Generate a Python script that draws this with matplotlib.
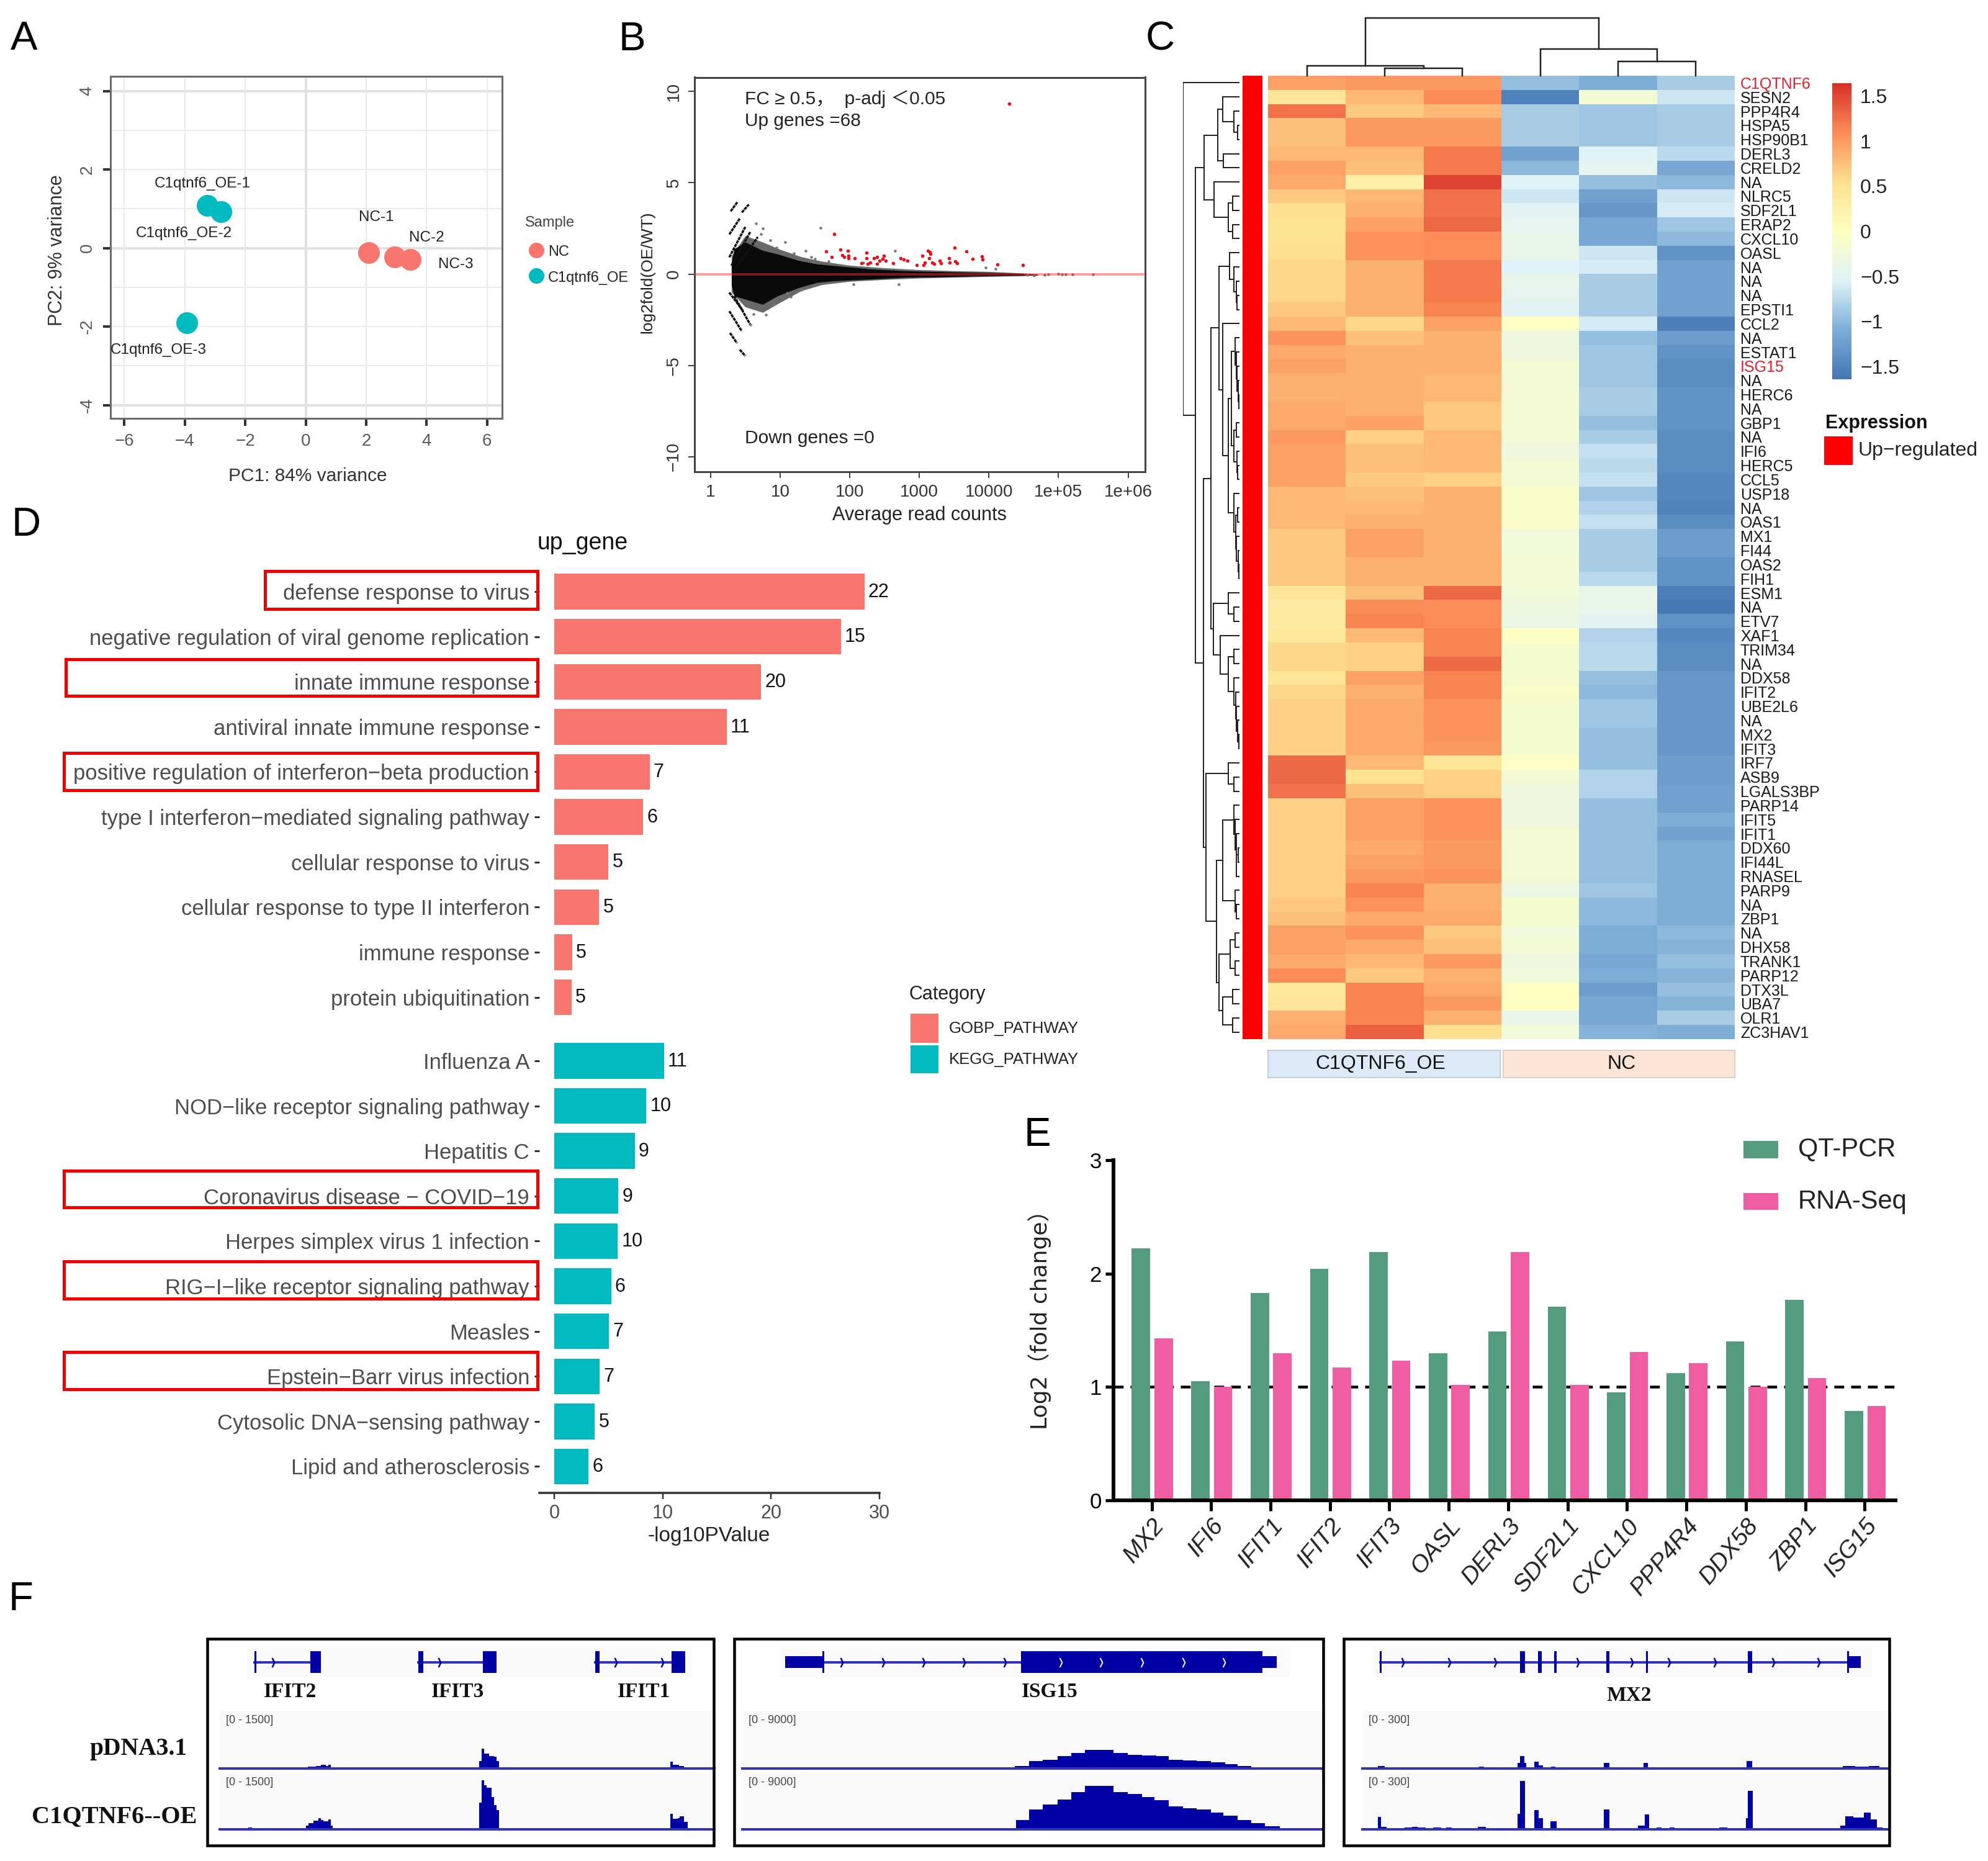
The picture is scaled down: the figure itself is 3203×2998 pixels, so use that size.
import numpy as np
import matplotlib
matplotlib.use('Agg')
import matplotlib.pyplot as plt
from matplotlib.colors import LinearSegmentedColormap, ListedColormap
from matplotlib.path import Path
from matplotlib.patches import Rectangle

plt.rcParams['font.family'] = ['Liberation Sans', 'Noto Sans CJK SC', 'DejaVu Sans']

W, H = 3203, 2998

# ---------- A: PCA ----------
pca_names = ['C1qtnf6_OE-1', 'C1qtnf6_OE-2', 'C1qtnf6_OE-3', 'NC-1', 'NC-2', 'NC-3']
pca_x = [-3.26, -2.81, -3.93, 2.09, 2.95, 3.47]
pca_y = [1.08, 0.92, -1.91, -0.12, -0.23, -0.29]
pca_group = ['OE', 'OE', 'OE', 'NC', 'NC', 'NC']

# ---------- B: MA plot ----------
red_logmean = [4.29, 1.78, 1.66, 1.74, 1.87, 1.89, 1.92, 1.97, 1.98, 1.98, 2.07, 2.17, 2.24, 2.24, 2.26, 2.35, 2.39,
               2.29, 2.43, 2.47, 2.49, 2.52, 2.39, 2.62, 2.73, 2.78, 2.83, 2.96, 3.04, 3.12, 3.15, 3.08, 3.06, 3.16,
               3.14, 3.19, 3.21, 3.29, 3.31, 3.43, 3.44, 3.52, 3.54, 3.51, 3.68, 3.77, 3.90, 3.91, 4.12, 4.49]
red_lfc = [9.32, 2.19, 1.23, 0.94, 1.34, 1.05, 0.92, 1.29, 1.01, 0.87, 0.87, 0.59, 1.16, 0.87, 0.55, 0.87, 0.55,
           0.64, 0.72, 0.83, 1.01, 0.74, 0.92, 0.61, 0.87, 0.79, 0.74, 0.50, 1.01, 1.29, 1.20, 0.64, 0.50, 1.10,
           0.87, 0.64, 0.55, 0.72, 0.61, 0.87, 0.64, 0.68, 0.59, 1.44, 1.23, 0.83, 0.98, 0.79, 0.53, 0.50]
cloud_logmean = [0.30, 0.34, 0.50, 0.75, 0.96, 1.27, 1.53, 1.78, 2.29, 2.80, 3.31, 3.82, 4.34, 4.70]
cloud_up = [0.60, 1.38, 1.75, 1.29, 1.10, 0.74, 0.55, 0.46, 0.28, 0.18, 0.13, 0.09, 0.05, 0.0]
cloud_low = [-0.60, -1.20, -1.38, -1.66, -1.20, -0.74, -0.46, -0.37, -0.28, -0.18, -0.15, -0.11, -0.09, -0.07]
# sparser edge of the cloud
fringe_logmean = [0.30, 0.50, 0.75, 1.00, 1.30, 1.60, 2.00, 2.50, 3.00, 3.50, 4.00, 4.50]
fringe_up = [1.00, 2.10, 1.75, 1.35, 0.95, 0.70, 0.48, 0.34, 0.24, 0.18, 0.14, 0.05]
fringe_low = [-1.00, -1.80, -2.10, -1.55, -0.92, -0.58, -0.40, -0.30, -0.22, -0.18, -0.13, -0.09]
# (log mean start, lfc start, log mean end, lfc end)
streaks = [(.29, 3.44, .39, 3.96), (.45, 3.37, .55, 3.81), (.27, 2.17, .42, 3.04), (.27, .92, .50, 2.58),
           (.30, .46, .57, 2.30), (.37, .37, .68, 2.03), (.27, -1.01, .47, -2.03), (.27, -2.03, .45, -3.13),
           (.28, -3.22, .38, -3.78), (.42, -4.14, .50, -4.48), (.34, -1.2, .57, -2.76)]
grey_logmean = [1.58, 2.65, 2.70, 0.86, 0.75, 0.65, 1.07, 1.37, 1.50, 0.91, 0.80, 0.57, 1.20, 1.45, 1.70, 0.95, 1.15,
                4.80, 4.85, 5.00, 5.05, 5.10, 5.20, 5.50, 4.55, 4.65, 3.95, 4.10, 2.20, 2.05, 1.10, 1.30, 0.62, 0.72]
grey_lfc = [2.52, 1.29, -0.55, 1.84, 2.49, 2.76, 1.75, 1.29, 0.83, -1.66, -2.21, -2.76, 1.15, 0.95, 0.70, 1.45, -1.25,
            -0.04, 0.0, 0.02, 0.0, -0.02, -0.02, 0.0, -0.05, -0.08, 0.35, 0.30, 0.62, -0.55, -1.05, -0.85, -2.2, 2.2]

# ---------- C: heatmap ----------
gene_names = ['C1QTNF6', 'SESN2', 'PPP4R4', 'HSPA5', 'HSP90B1', 'DERL3', 'CRELD2', 'NA', 'NLRC5', 'SDF2L1', 'ERAP2',
              'CXCL10', 'OASL', 'NA', 'NA', 'NA', 'EPSTI1', 'CCL2', 'NA', 'ESTAT1', 'ISG15', 'NA', 'HERC6', 'NA',
              'GBP1', 'NA', 'IFI6', 'HERC5', 'CCL5', 'USP18', 'NA', 'OAS1', 'MX1', 'FI44', 'OAS2', 'FIH1', 'ESM1',
              'NA', 'ETV7', 'XAF1', 'TRIM34', 'NA', 'DDX58', 'IFIT2', 'UBE2L6', 'NA', 'MX2', 'IFIT3', 'IRF7', 'ASB9',
              'LGALS3BP', 'PARP14', 'IFIT5', 'IFIT1', 'DDX60', 'IFI44L', 'RNASEL', 'PARP9', 'NA', 'ZBP1', 'NA',
              'DHX58', 'TRANK1', 'PARP12', 'DTX3L', 'UBA7', 'OLR1', 'ZC3HAV1']
heat_values = [
    [.95, 1.0, 1.0, -.95, -1.1, -.85], [.45, .8, 1.1, -1.5, -.2, -.65], [1.25, .7, .8, -.85, -.9, -.85],
    [.75, 1.0, 1.0, -.85, -.9, -.85], [.75, 1.0, 1.0, -.85, -.9, -.85], [.8, .8, 1.2, -1.2, -.55, -.75],
    [.95, .75, 1.2, -1.0, -.45, -1.15], [.9, .25, 1.5, -.55, -.95, -1.0], [.7, .8, 1.25, -.65, -1.2, -.65],
    [.55, .85, 1.25, -.5, -1.3, -.6], [.5, .95, 1.3, -.45, -1.15, -.9], [.5, 1.05, 1.1, -.4, -1.15, -1.0],
    [.55, 1.05, 1.1, -.4, -.65, -1.35], [.6, .85, 1.2, -.55, -.6, -1.2], [.6, .85, 1.2, -.4, -.85, -1.2],
    [.6, .85, 1.2, -.45, -.85, -1.2], [.7, .85, 1.15, -.5, -.85, -1.2], [.8, .6, .95, -.05, -.6, -1.55],
    [1.05, .75, .85, -.3, -.95, -1.25], [.9, .85, .85, -.3, -.9, -1.35], [.95, .85, .85, -.2, -.9, -1.4],
    [.85, .85, .8, -.2, -.9, -1.4], [.85, .85, .8, -.2, -.85, -1.35], [.9, .85, .7, -.2, -.85, -1.35],
    [.9, .95, .7, -.2, -.95, -1.35], [1.0, .65, .8, -.2, -.85, -1.4], [.95, .75, .8, -.3, -.7, -1.4],
    [.95, .75, .8, -.2, -.75, -1.4], [.95, .7, .65, -.2, -.7, -1.45], [.8, .75, .85, -.1, -.9, -1.45],
    [.8, .8, .85, -.1, -.8, -1.5], [.8, .85, .85, -.1, -.7, -1.4], [.7, .95, .85, -.25, -.85, -1.25],
    [.7, .95, .85, -.25, -.85, -1.25], [.7, .85, .85, -.2, -.85, -1.35], [.7, .85, .85, -.2, -.75, -1.35],
    [.45, .75, 1.3, -.25, -.4, -1.55], [.35, 1.1, 1.1, -.3, -.4, -1.6], [.35, 1.15, 1.1, -.35, -.5, -1.35],
    [.4, .8, 1.15, -.05, -.8, -1.45], [.6, .65, 1.15, -.15, -.75, -1.4], [.6, .65, 1.3, -.15, -.75, -1.4],
    [.45, .95, 1.15, -.15, -.95, -1.3], [.6, .85, 1.15, -.1, -1.0, -1.3], [.65, .9, 1.05, -.15, -.9, -1.3],
    [.65, .9, 1.05, -.15, -.9, -1.3], [.65, .9, 1.05, -.15, -.95, -1.3], [.65, .9, 1.0, -.15, -.95, -1.3],
    [1.3, .8, .45, -.05, -.95, -1.25], [1.3, .5, .65, -.2, -.8, -1.25], [1.25, .75, .65, -.3, -.8, -1.2],
    [.65, .95, 1.05, -.3, -.95, -1.2], [.65, .95, 1.05, -.3, -.95, -1.1], [.65, .95, 1.05, -.2, -.95, -1.2],
    [.65, .9, 1.0, -.2, -.95, -1.1], [.65, .95, 1.0, -.2, -.95, -1.1], [.65, 1.0, 1.05, -.2, -.95, -1.1],
    [.65, 1.15, .85, -.35, -.9, -1.1], [.7, 1.05, .85, -.15, -1.0, -1.1], [.75, .9, .9, -.15, -1.0, -1.1],
    [.95, 1.05, .7, -.25, -1.1, -1.0], [.95, .9, .75, -.2, -1.1, -1.05], [.9, .8, 1.0, -.3, -1.15, -.95],
    [1.1, .7, .85, -.25, -1.1, -1.05], [.4, 1.15, .9, -.05, -1.25, -.95], [.45, 1.15, 1.0, -.05, -1.15, -1.05],
    [.85, 1.15, .85, -.4, -1.15, -.85], [.9, 1.35, .55, -.25, -1.05, -1.1]]
heat_colors = ['#4575B4', '#7DAED6', '#E0F3F8', '#FFFFBF', '#FEE090', '#FC8D59', '#D73027']

# dendrograms as nested (height, left, right), leaves are row or column numbers
col_tree = (1.0, (.172, 0, (.129, 1, 2)), (.46, 3, (.25, 4, 5)))
e1 = (.08, 18, (.06, 19, (.04, 20, (.02, 21, (.015, 22, 23)))))
e2 = (.10, (.05, 24, 25), (.04, 26, (.03, 27, 28)))
e3 = (.10, 29, (.07, (.03, 30, 31), (.05, 32, (.02, 33, (.01, 34, 35)))))
c12 = (.29, 17, (.2, (.14, e1, e2), e3))
c11 = (.18, 12, (.1, 13, (.06, 14, (.04, 15, 16))))
c13 = (.46, (.2, 36, (.1, 37, 38)),
       (.34, 39, (.2, (.1, 40, 41), (.1, 42, (.07, 43, (.05, 44, (.03, 45, (.015, 46, 47))))))))
c1 = (.50, (.36, c11, c12), c13)
d1 = (.3, (.1, 51, (.08, 52, (.06, 53, (.05, (.02, 54, 55), 56)))), (.08, 57, (.06, 58, 59)))
d2 = (.36, (.16, (.08, 60, 61), (.08, 62, 63)), (.3, (.12, 64, 65), (.12, 66, 67)))
c2 = (.59, (.2, 48, (.1, 49, 50)), (.40, d1, d2))
b1 = (.38, (.30, 1, (.1, 2, (.03, 3, 4))), (.28, 5, 6))
b2 = (.45, 7, (.2, (.12, 8, 9), (.12, 10, 11)))
row_tree = (1.0, 0, (.78, (.62, b1, b2), (.64, c1, c2)))

# ---------- D: enrichment ----------
terms = ['defense response to virus', 'negative regulation of viral genome replication', 'innate immune response',
         'antiviral innate immune response', 'positive regulation of interferon−beta production',
         'type I interferon−mediated signaling pathway', 'cellular response to virus',
         'cellular response to type II interferon', 'immune response', 'protein ubiquitination',
         'Influenza A', 'NOD−like receptor signaling pathway', 'Hepatitis C', 'Coronavirus disease − COVID−19',
         'Herpes simplex virus 1 infection', 'RIG−I−like receptor signaling pathway', 'Measles',
         'Epstein−Barr virus infection', 'Cytosolic DNA−sensing pathway', 'Lipid and atherosclerosis']
term_pvalue = [28.6, 26.45, 19.08, 15.9, 8.8, 8.2, 5.0, 4.14, 1.64, 1.58,
               10.13, 8.49, 7.43, 5.92, 5.86, 5.26, 5.07, 4.2, 3.75, 3.16]
term_counts = [22, 15, 20, 11, 7, 6, 5, 5, 5, 5, 11, 10, 9, 9, 10, 6, 7, 7, 5, 6]

# ---------- E: validation ----------
val_genes = ['MX2', 'IFI6', 'IFIT1', 'IFIT2', 'IFIT3', 'OASL', 'DERL3', 'SDF2L1', 'CXCL10', 'PPP4R4', 'DDX58',
             'ZBP1', 'ISG15']
qt_pcr = [2.22, 1.05, 1.83, 2.04, 2.19, 1.30, 1.49, 1.71, 0.95, 1.12, 1.40, 1.77, 0.79]
rna_seq = [1.43, 1.0, 1.30, 1.17, 1.23, 1.02, 2.19, 1.02, 1.31, 1.21, 1.0, 1.08, 0.83]

# ---------- F: tracks, positions in percent of track width ----------
ifit_t1_pos = [17.8, 19.5, 20.5, 21.5, 22, 22.5, 52.5, 53, 53.5, 54.5, 55.5, 56, 56.4, 91.1, 91.6, 92.8, 93.8, 94.7]
ifit_t1_val = [50, 70, 90, 60, 90, 0, 200, 520, 380, 330, 300, 200, 0, 170, 90, 70, 40, 0]
ifit_t2_pos = [5.8, 6.5, 17.5, 18, 19, 20, 20.5, 21, 22, 22.5, 22.8, 52.5, 53, 53.5, 54, 55, 55.5, 56, 56.4,
               91.1, 91.6, 92.6, 93, 93.8, 94.6]
ifit_t2_val = [55, 0, 100, 170, 230, 300, 250, 210, 260, 100, 0, 700, 1295, 1150, 1090, 850, 640, 500, 0,
               410, 280, 290, 340, 200, 0]
isg_t1_pos = [47.0, 49.5, 51.9, 54.4, 56.8, 59.2, 61.7, 64.1, 66.6, 69.0, 71.5, 73.6, 76.1, 78.5, 80.9, 83.4, 85.5,
              87.9, 90.5]
isg_t1_val = [410, 1130, 1350, 1980, 2390, 2860, 2860, 2450, 2140, 2080, 1980, 1350, 1290, 1130, 945, 725, 350, 190, 0]
isg_t2_pos = [44.9, 47.3, 49.5, 51.9, 54.4, 56.8, 59.2, 61.7, 64.1, 66.6, 69.0, 71.2, 73.6, 76.1, 78.5, 80.9, 83.1,
              85.5, 87.9, 90.3, 92.8]
isg_t2_val = [220, 1420, 3090, 3875, 4725, 5890, 6840, 6840, 5830, 5575, 5135, 4570, 3620, 3310, 3090, 2615, 2110,
              1420, 945, 470, 0]
mx2_t1_pos = [2.6, 3.0, 4.2, 22.2, 23.2, 29.6, 30.0, 30.8, 31.2, 32.8, 33.6, 34.4, 35.9, 36.8, 46.0, 47.0, 53.5, 54.4,
              73.2, 74.2, 91.5, 93.8, 95.5, 96.5, 98.5, 99.4]
mx2_t1_val = [6, 14, 0, 10, 0, 30, 64, 30, 0, 35, 15, 0, 10, 0, 29, 0, 28, 0, 40, 0, 14, 9, 10, 14, 6, 0]
mx2_t2_pos = [3.0, 3.6, 4.6, 6.8, 8, 9.5, 10.5, 12, 13.5, 15, 16, 17, 18.5, 20.5, 22, 23.5, 25, 27, 29.6, 30.0, 31.0,
              32.8, 33.6, 34.4, 35.8, 37.0, 46.0, 47.0, 52.5, 53.8, 54.6, 56.0, 57, 58.5, 59.5, 68, 69.5, 71.5, 73.0,
              73.4, 74.4, 91.0, 92.0, 93.5, 95.5, 96.8, 98.0, 99.0]
mx2_t2_val = [66, 12, 4, 8, 10, 12, 10, 8, 9, 7, 9, 3, 8, 5, 14, 5, 8, 5, 80, 254, 5,
              100, 60, 5, 42, 0, 105, 0, 20, 79, 0, 10, 0, 10, 0, 10, 0, 8, 60,
              203, 0, 20, 68, 63, 89, 52, 10, 0]

# gene models: (start, end, half height) of each exon, intron line, arrows, grey band
ifit_exons = [(7.0, 7.4, 1), (18.3, 20.4, 1), (40.1, 41.1, 1), (53.2, 55.9, 1), (75.9, 76.8, 1), (91.4, 94.1, 1)]
ifit_lines = [(7.0, 18.3), (40.1, 53.2), (75.9, 91.4)]
ifit_arrows = [10.8, 44.4, 80.1, 89.5]
isg_exons = [(7.4, 14.0, .55), (13.8, 14.1, 1), (48.1, 89.8, 1), (89.8, 92.3, .55)]
isg_lines = [(14.0, 48.1)]
isg_arrows = [17.1, 24.3, 31.3, 38.3, 45.3]
isg_white_arrows = [55, 62, 69, 76.2, 83.2]
mx2_exons = [(3.3, 3.7, 1), (30, 31, 1), (33.4, 34.2, 1), (36.5, 37, 1), (46.4, 47.1, 1), (54, 54.4, 1), (73.4, 74.2, 1),
             (92.3, 92.7, 1), (92.7, 94.9, .55)]
mx2_lines = [(3.4, 92.5)]
mx2_arrows = [7.7, 16.5, 25.3, 41, 51.3, 58.4, 67.1, 78.2, 86.9]

SALMON = '#F8766D'
TEAL = '#00BABF'
BLUE = '#0000A6'
LINE_BLUE = '#3434B8'
TICK_GREY = '#4D4D4D'

fig = plt.figure(figsize=(W / 100, H / 100), dpi=100, facecolor='white')


def ax_px(x0, y0, x1, y1):
    # axes from pixel box, y counted from the top
    return fig.add_axes([x0 / W, 1 - y1 / H, (x1 - x0) / W, (y1 - y0) / H])


def px(v):
    return v * 0.72


# overlay for labels and annotation boxes
ov = fig.add_axes([0, 0, 1, 1], zorder=20)
ov.set_xlim(0, W)
ov.set_ylim(H, 0)
ov.axis('off')
ov.patch.set_alpha(0)

for letter, lx, ly in [('A', 17, 80), ('B', 997, 81), ('C', 1846, 80), ('D', 19, 863), ('E', 1650, 1846), ('F', 14, 2594)]:
    ov.text(lx, ly, letter, fontsize=47, va='baseline', ha='left')

# ---------- panel A ----------
ax = ax_px(177.5, 122.5, 809, 673.5)
ax.set_xlim(-6.47, 6.5)
ax.set_ylim(-4.33, 4.38)
for v in [-3, -2, -1, 1, 2, 3]:
    ax.axhline(v, color='#EAEAEA', lw=px(2), zorder=1)
for v in [-4, 0, 4]:
    ax.axhline(v, color='#E2E2E2', lw=px(4), zorder=1)
for v in [-6, -4, -2, 2, 4, 6]:
    ax.axvline(v, color='#EAEAEA', lw=px(2), zorder=1)
ax.axvline(0, color='#E2E2E2', lw=px(4), zorder=1)
for group, col in [('NC', SALMON), ('OE', TEAL)]:
    gx = [a for a, g in zip(pca_x, pca_group) if g == group]
    gy = [a for a, g in zip(pca_y, pca_group) if g == group]
    ax.scatter(gx, gy, s=px(35) ** 2, color=col, zorder=3, linewidths=0)
ax.set_xticks([-6, -4, -2, 0, 2, 4, 6])
ax.set_yticks([-4, -2, 0, 2, 4])
ax.set_yticklabels(['-4', '-2', '0', '2', '4'], rotation=90, va='center')
ax.tick_params(axis='both', labelsize=20, labelcolor='#5A5A5A', color='#333333', length=px(12), width=px(4), pad=px(12))
for s in ax.spines.values():
    s.set_color('#6A6A6A')
    s.set_linewidth(px(3))
for name, tx, ty in zip(pca_names, [326, 296, 255, 606, 687, 734], [296, 376, 564, 350, 383, 426]):
    ov.text(tx, ty, name, fontsize=17.5, ha='center', va='center', color='#222222')
ov.text(496, 767, 'PC1: 84% variance', fontsize=21.5, ha='center', va='center', color='#333333')
ov.text(92, 403, 'PC2: 9% variance', fontsize=22, ha='center', va='center', rotation=90, color='#333333')
ov.text(886, 359, 'Sample', fontsize=17, ha='center', va='center', color='#444444')
ov.scatter([864], [403], s=px(25) ** 2, color=SALMON, linewidths=0)
ov.scatter([864], [444], s=px(25) ** 2, color=TEAL, linewidths=0)
ov.text(883, 406, 'NC', fontsize=17, va='center', color='#222222')
ov.text(883, 448, 'C1qtnf6_OE', fontsize=17, va='center', color='#222222')

# ---------- panel B ----------
ax = ax_px(1119, 124.5, 1845, 760)
ax.set_xscale('log')
ax.set_xlim(10 ** -0.23, 10 ** 6.245)
ax.set_ylim(-10.82, 10.77)
ax.fill_between(10 ** np.array(fringe_logmean), fringe_low, fringe_up, color='#2A2A2A', alpha=0.7, lw=0, zorder=2)
ax.fill_between(10 ** np.array(cloud_logmean), cloud_low, cloud_up, color='#0A0A0A', lw=0, zorder=2)
for x0, y0, x1, y1 in streaks:
    ax.plot([10 ** x0, 10 ** x1], [y0, y1], color='#111111', lw=px(3.5), linestyle=(0, (1.5, 0.3)), zorder=2)
ax.scatter(10 ** np.array(grey_logmean), grey_lfc, s=px(4.5) ** 2, color='#777777', linewidths=0, zorder=2)
ax.scatter(10 ** np.array(red_logmean), red_lfc, s=px(5.5) ** 2, color='#E8101C', linewidths=0, zorder=3)
ax.axhline(0, color='#FF3030', alpha=0.45, lw=px(4), zorder=4)
ax.set_xticks([1, 10, 100, 1000, 10000, 1e5, 1e6])
ax.set_xticklabels(['1', '10', '100', '1000', '10000', '1e+05', '1e+06'])
ax.minorticks_off()
ax.set_yticks([-10, -5, 0, 5, 10])
ax.set_yticklabels(['−10', '−5', '0', '5', '10'], rotation=90, va='center')
ax.tick_params(axis='both', labelsize=20, labelcolor='#333333', color='#444444', length=px(10), width=px(2), pad=px(10))
for s in ax.spines.values():
    s.set_color('#444444')
    s.set_linewidth(px(3))
ov.text(1200, 160, 'FC ≥ 0.5，  p-adj ＜0.05', fontsize=21.5, va='center', color='#222222')
ov.text(1200, 195, 'Up genes =68', fontsize=21.5, va='center', color='#222222')
ov.text(1200, 706, 'Down genes =0', fontsize=21.5, va='center', color='#222222')
ov.text(1481, 830, 'Average read counts', fontsize=22, ha='center', va='center', color='#222222')
ov.text(1043, 439, 'log2fold(OE/WT)', fontsize=19, ha='center', va='center', rotation=90, color='#222222')


# ---------- panel C ----------
def draw_tree(ax, node, horizontal):
    # returns position and height of a node
    if not isinstance(node, tuple):
        return node, 0
    h, a, b = node
    pa, ha = draw_tree(ax, a, horizontal)
    pb, hb = draw_tree(ax, b, horizontal)
    if horizontal:
        ax.plot([ha, h, h, hb], [pa, pa, pb, pb], color='#222222', lw=px(2), solid_joinstyle='miter')
    else:
        ax.plot([pa, pa, pb, pb], [ha, h, h, hb], color='#222222', lw=px(2.5), solid_joinstyle='miter')
    return (pa + pb) / 2, h


heat_cmap = LinearSegmentedColormap.from_list('heat', heat_colors)
ax = ax_px(2043, 122, 2795, 1674)
im = ax.imshow(heat_values, aspect='auto', cmap=heat_cmap, vmin=-1.64, vmax=1.64, interpolation='nearest')
ax.set_xticks([])
ax.yaxis.tick_right()
ax.set_yticks(range(len(gene_names)))
ax.set_yticklabels(gene_names, fontsize=18, color='#1A1A1A')
ax.tick_params(axis='y', length=0, pad=px(9))
for tick, name in zip(ax.get_yticklabels(), gene_names):
    if name in ('C1QTNF6', 'ISG15'):
        tick.set_color('#E8202E')
for s in ax.spines.values():
    s.set_visible(False)

ax = ax_px(2002, 122, 2034, 1674)
ax.imshow([[1]] * len(gene_names), aspect='auto', cmap=ListedColormap(['#FF0000']))
ax.axis('off')

ax = ax_px(1905.6, 122, 1997, 1674)
ax.set_xlim(1.0, 0)
ax.set_ylim(len(gene_names) - 0.5, -0.5)
draw_tree(ax, row_tree, True)
ax.axis('off')

ax = ax_px(2043, 29, 2795, 122)
ax.set_xlim(-0.5, 5.5)
ax.set_ylim(0, 1.0)
draw_tree(ax, col_tree, False)
ax.axis('off')
for l in ax.lines:
    l.set_clip_on(False)

cax = ax_px(2952, 134, 2983, 611)
cb = fig.colorbar(im, cax=cax)
cb.set_ticks([-1.5, -1, -0.5, 0, 0.5, 1, 1.5])
cb.set_ticklabels(['−1.5', '−1', '−0.5', '0', '0.5', '1', '1.5'])
cb.ax.tick_params(length=0, labelsize=23, pad=px(14), labelcolor='#222222')
cb.outline.set_visible(False)

ov.text(2941, 682, 'Expression', fontsize=22, fontweight='bold', va='center', color='#111111')
ov.add_patch(Rectangle((2939, 703), 46, 46, color='#FF0000', lw=0))
ov.text(2994, 726, 'Up−regulated', fontsize=23, va='center', color='#222222')
ov.add_patch(Rectangle((2043, 1692), 374, 44, fc='#DCE9F7', ec='#C4CFDB', lw=px(2)))
ov.add_patch(Rectangle((2422, 1692), 373, 44, fc='#FCE4D6', ec='#DDCFC6', lw=px(2)))
ov.text(2224, 1714, 'C1QTNF6_OE', fontsize=23, ha='center', va='center', color='#111111')
ov.text(2612, 1714, 'NC', fontsize=23, ha='center', va='center', color='#111111')

# ---------- panel D ----------
ax = ax_px(869, 900, 1417, 2404.6)
ypos = list(range(10)) + [10.41 + i for i in range(10)]
colors = [SALMON] * 10 + [TEAL] * 10
ax.barh(ypos, term_pvalue, height=0.79, color=colors, lw=0)
for y, v, c in zip(ypos, term_pvalue, term_counts):
    ax.text(v + 0.35, y + 0.01, str(c), fontsize=22, va='center', color='#111111')
ax.set_xlim(-1.37, 30)
ax.set_ylim(19.99, -0.73)
ax.set_yticks(ypos)
ax.set_yticklabels(terms, fontsize=24.9, color=TICK_GREY)
ax.set_xticks([0, 10, 20, 30])
ax.tick_params(axis='y', length=px(8), width=px(3), color='#333333', pad=px(8))
ax.tick_params(axis='x', length=px(10), width=px(2.5), color='#333333', labelsize=22, labelcolor=TICK_GREY, pad=px(8))
for side in ['top', 'right', 'left']:
    ax.spines[side].set_visible(False)
ax.spines['bottom'].set_color('#333333')
ax.spines['bottom'].set_linewidth(px(3.5))
ov.text(939, 875, 'up_gene', fontsize=27, ha='center', va='center', color='#111111')
ov.text(1142, 2475, '-log10PValue', fontsize=24, ha='center', va='center', color='#222222')
for y0, y1, x0 in [(920, 981, 427), (1062, 1121, 106), (1213, 1273, 103), (1886, 1945, 103), (2032, 2092, 103), (2178, 2238, 103)]:
    ov.add_patch(Rectangle((x0, y0), 866 - x0, y1 - y0, fc='none', ec='#F00000', lw=px(5)))
ov.text(1465, 1602, 'Category', fontsize=22, va='center', color='#222222')
ov.add_patch(Rectangle((1467, 1633), 45, 47, color=SALMON, lw=0))
ov.add_patch(Rectangle((1467, 1684), 45, 45, color=TEAL, lw=0))
ov.text(1529, 1657, 'GOBP_PATHWAY', fontsize=18.5, va='center', color='#222222')
ov.text(1529, 1707, 'KEGG_PATHWAY', fontsize=18.5, va='center', color='#222222')

# ---------- panel E ----------
ax = ax_px(1794, 1869, 3054, 2417)
pos = np.arange(len(val_genes))
ax.axhline(1, color='black', lw=px(4.5), linestyle=(0, (3.5, 2.5)), zorder=1)
ax.bar(pos - 0.18, qt_pcr, width=0.31, color='#559B7E', lw=0, zorder=2)
ax.bar(pos + 0.2, rna_seq, width=0.31, color='#EF5DA3', lw=0, zorder=2)
ax.set_xlim(-0.643, 12.52)
ax.set_ylim(0, 3)
ax.set_yticks([0, 1, 2, 3])
ax.set_xticks(pos)
ax.set_xticklabels(val_genes, rotation=50, ha='right', rotation_mode='anchor', fontsize=28, style='italic', color='#222222')
ax.tick_params(axis='x', length=px(17), width=px(5), color='black', pad=px(6))
ax.tick_params(axis='y', length=px(13), width=px(5), color='black', labelsize=25, pad=px(6))
for side in ['top', 'right']:
    ax.spines[side].set_visible(False)
ax.spines['left'].set_linewidth(px(6))
ax.spines['bottom'].set_linewidth(px(6))
ov.text(1675, 2117, 'Log2（fold change）', fontsize=26, rotation=90, ha='center', va='center', color='#222222',
        family=['DejaVu Sans', 'Noto Sans CJK SC'])
ov.add_patch(Rectangle((2809, 1838), 56, 28, color='#559B7E', lw=0))
ov.add_patch(Rectangle((2809, 1922), 56, 27, color='#EF5DA3', lw=0))
ov.text(2897, 1851, 'QT-PCR', fontsize=30, va='center', color='#222222')
ov.text(2897, 1936, 'RNA-Seq', fontsize=30, va='center', color='#222222')

# ---------- panel F ----------
chevron = Path([(-0.25, 1), (0.25, 0), (-0.25, -1)], [Path.MOVETO, Path.LINETO, Path.LINETO])


def draw_track(x0, x1, y0, y1, tpos, tval, ymax, scale_label):
    tr = ax_px(x0, y0, x1, y1)
    tr.set_facecolor('#F9F9F9')
    tr.set_xlim(0, 100)
    tr.set_ylim(0, ymax)
    tr.fill_between(tpos, tval, step='post', color=BLUE, lw=0)
    tr.axhline(0, color=LINE_BLUE, lw=px(4), clip_on=False)
    tr.set_xticks([])
    tr.set_yticks([])
    for s in tr.spines.values():
        s.set_visible(False)
    ov.text(x0 + 10, y0 + 16, scale_label, fontsize=13, va='center', color='#444444')


def draw_gene(x0, x1, exons, lines, arrows, band, white_arrows=()):
    g = ax_px(x0, 2660, x1, 2695)
    g.set_xlim(0, 100)
    g.set_ylim(-1, 1)
    g.axvspan(band[0], band[1], ymin=-0.2, ymax=1.2, color='#FAFAFA', lw=0, clip_on=False, zorder=0)
    for a, b in lines:
        g.plot([a, b], [0, 0], color=LINE_BLUE, lw=px(4), zorder=1)
    g.plot(arrows, [0] * len(arrows), linestyle='none', marker=chevron, ms=px(15), mfc='none', mec=BLUE, mew=px(2.5), zorder=2)
    for a, b, hh in exons:
        g.add_patch(Rectangle((a, -hh), b - a, 2 * hh, color=BLUE, lw=0, zorder=3))
    if len(white_arrows):
        g.plot(white_arrows, [0] * len(white_arrows), linestyle='none', marker=chevron, ms=px(15), mfc='none', mec='white',
               mew=px(2), zorder=4)
    g.axis('off')


draw_gene(354, 1151, ifit_exons, ifit_lines, ifit_arrows, (5.5, 95.5))
draw_track(354, 1151, 2756, 2849, ifit_t1_pos, ifit_t1_val, 1500, '[0 - 1500]')
draw_track(354, 1151, 2855, 2947, ifit_t2_pos, ifit_t2_val, 1500, '[0 - 1500]')
draw_gene(1196, 2129, isg_exons, isg_lines, isg_arrows, (6.5, 94.5), isg_white_arrows)
draw_track(1196, 2129, 2756, 2849, isg_t1_pos, isg_t1_val, 9000, '[0 - 9000]')
draw_track(1196, 2129, 2855, 2947, isg_t2_pos, isg_t2_val, 9000, '[0 - 9000]')
draw_gene(2195, 3041, mx2_exons, mx2_lines, mx2_arrows, (2, 97))
draw_track(2195, 3041, 2756, 2849, mx2_t1_pos, mx2_t1_val, 300, '[0 - 300]')
draw_track(2195, 3041, 2855, 2947, mx2_t2_pos, mx2_t2_val, 300, '[0 - 300]')

for bx0, bx1 in [(334, 1150), (1183, 2132), (2165, 3044)]:
    ov.add_patch(Rectangle((bx0, 2640), bx1 - bx0, 333, fc='none', ec='black', lw=px(4.5)))

serif = ['Liberation Serif', 'DejaVu Serif']
for name, tx, ty in [('IFIT2', 468, 2725), ('IFIT3', 738, 2725), ('IFIT1', 1038, 2725), ('ISG15', 1691, 2725), ('MX2', 2625, 2732)]:
    ov.text(tx, ty, name, fontsize=24, fontweight='bold', ha='center', va='center', family=serif, color='#111111')
ov.text(302, 2818, 'pDNA3.1', fontsize=28.5, fontweight='bold', ha='right', va='center', family=serif, color='#111111')
ov.text(317, 2927, 'C1QTNF6--OE', fontsize=29, fontweight='bold', ha='right', va='center', family=serif, color='#111111')

plt.savefig('out.png', dpi=100)
